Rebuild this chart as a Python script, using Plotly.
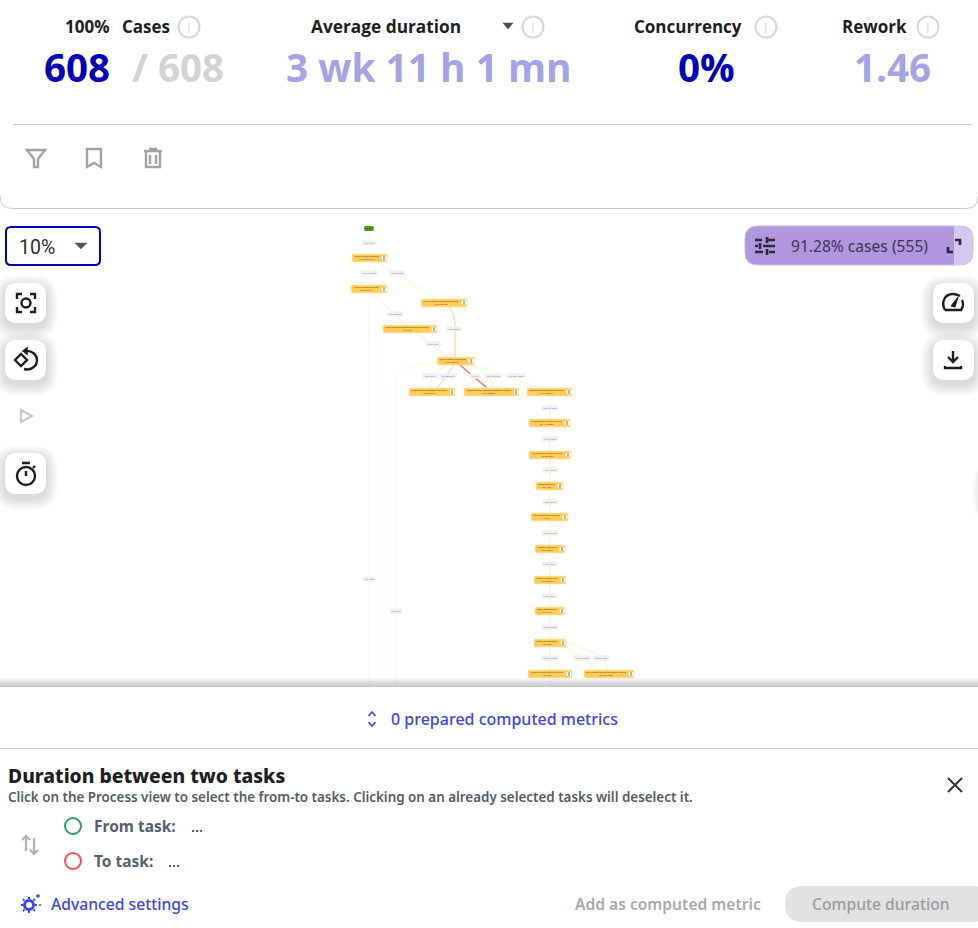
import re

import plotly.graph_objects as go

# header metrics
metric_labels = ["100%", "Cases", "Average duration", "Concurrency", "Rework"]
metric_values = ["608", "/ 608", "3 wk 11 h 1 mn", "0%", "1.46"]
zoom_level = "10%"
cases_filter = "91.28% cases (555)"

# process map
start_name = "Start"
node_names = [
    "Create Purchase Requisition",
    "Analyze Purchase Requisition",
    "Create Request for Quotation Requester",
    "Create Request for Quotation Requester Manager",
    "Analyze Request for Quotation",
    "Amend Request for Quotation Requester",
    "Amend Request for Quotation Requester Manager",
    "Send Request for Quotation to Supplier",
    "Create Quotation comparison Map",
    "Analyze Quotation comparison Map",
    "Choose best option",
    "Settle conditions with supplier",
    "Create Purchase Order",
    "Confirm Purchase Order",
    "Deliver Goods Services",
    "Release Purchase Order",
    "Approve Purchase Order for payment",
    "Send Approved Order to the Supplier Manager",
]
node_durations = [
    "Avg: 35 mn 48 s", "Avg: 8 mn 48 s", "Avg: 8 mn 48 s", "Avg: 9 mn",
    "Avg: 30 mn 5 s", "Avg: 8 mn 48 s", "Avg: 15 mn 8 s", "Avg: 15 mn 8 s",
    "Avg: 14 h 30 mn", "Avg: 20 mn 8 s", "Avg: 5 mn", "Avg: 2 h",
    "Avg: 5 mn 8 s", "Avg: 20 mn 8 s", "Avg: 1 d 3 h", "Avg: 5 mn",
    "Avg: 5 mn", "Avg: 35 h 40 mn",
]
edge_labels = [
    "Avg: 1 d 2 h", "Avg: 2 h 18 mn", "Avg: 2 h 5 mn", "Avg: 8 mn 8 s",
    "Avg: 6 d 2 h", "Avg: 8 h 8 s", "Avg: 8 d 8 s", "Avg: 30 mn 5 s",
    "Avg: 5 d", "Avg: 18 h 5 mn", "Avg: 20 h 48 mn",
    "Avg: 2 d 18 mn", "Avg: 8 d 8 mn", "Avg: 1 d 2 h", "Avg: 3 d 5 h",
    "Avg: 3 d 5 mn", "Avg: 5 d 8 s", "Avg: 2 d 8 s",
    "Avg: 2 d 8 mn", "Avg: 5 d 18 mn", "Avg: 2 d 8 mn", "Avg: 2 d 5 mn",
    "Avg: 2 mn", "Avg: 8 mn",
]

# node boxes in page pixels
node_x0 = [352, 351, 421, 383, 437, 409, 464, 527, 529, 529, 536, 531, 535, 534, 535, 534, 528, 584]
node_x1 = [387, 387, 467, 437, 474, 455, 519, 572, 570, 571, 563, 568, 565, 566, 565, 566, 572, 634]
node_y0 = [254, 285, 299, 325, 357, 388, 388, 388, 419, 451, 482, 513, 545, 576, 607, 639, 670, 670]

edge_label_x = [369, 369, 397, 395, 454, 433, 430, 448, 475, 493, 516, 550, 550, 550, 550, 550, 550, 550, 550, 550, 582, 601, 369, 396]
edge_label_y = [243, 273, 273, 314, 329, 344, 376, 376, 376, 376, 376, 408, 439, 470, 502, 533, 564, 596, 627, 658, 658, 658, 579, 611]

PALE = "#fff7e4"
edge_paths = [
    "M369 231 L369 254", "M369 262 L369 285", "M377 262 L437 299",
    "M369 294 L369 686", "M373 294 L406 325",
    "M449 307 C455 315 455 320 455 327 L455 357", "M415 333 L448 357",
    "M454 365 L437 388", "M460 365 L487 388",
    "M448 365 C436 370 430 378 430 388", "M470 365 C485 370 493 378 493 388",
    "M474 365 L540 388", "M437 362 C417 365 396 368 396 382 L396 686",
    "M550 396 L550 686", "M566 643 C590 650 605 655 608 670", "M566 647 L600 670",
]
edge_colors = [
    PALE, PALE, "#fff0d2", PALE, "#fff0d2", "#fdd3a2", "#ffe9c4",
    "#fcc79b", "#ee7350", "#fff0d2", "#fff0d2", "#fff0d2", PALE,
    "#fff2d8", "#fff0d2", "#fff0d2",
]
edge_widths = [1, 1, 1, 1, 1, 1.2, 1, 1, 1.4, 1, 1, 1, 1, 1.4, 1, 1]

DARK = "#1d1d22"
BLUE = "#0000b5"
LIGHT_BLUE = "#a3a3e6"
GREY_TEXT = "#d3d3d3"
LINK = "#3c46e4"
RULE = "#c9c6d3"
ICON_GREY = "#a2a2a2"

shapes = []
annotations = []


def rrect(x0, y0, x1, y1, r):
    return (
        f"M{x0 + r} {y0} L{x1 - r} {y0} Q{x1} {y0} {x1} {y0 + r} "
        f"L{x1} {y1 - r} Q{x1} {y1} {x1 - r} {y1} L{x0 + r} {y1} "
        f"Q{x0} {y1} {x0} {y1 - r} L{x0} {y0 + r} Q{x0} {y0} {x0 + r} {y0} Z"
    )


def add_path(path, fill=None, line=None, width=1, layer="below"):
    shapes.append(
        dict(
            type="path",
            path=path,
            xref="x",
            yref="y",
            layer=layer,
            fillcolor=fill or "rgba(0,0,0,0)",
            line=dict(color=line or "rgba(0,0,0,0)", width=width if line else 0),
        )
    )


def add_icon(cx, cy, path, color=DARK, width=2.4, fill=None):
    # icon paths are written around their own centre, absolute commands only
    out = []
    is_x = True
    for tok in re.findall(r"[A-Za-z]|-?[\d.]+", path):
        if tok.isalpha():
            out.append(tok)
            is_x = True
        else:
            out.append(str(float(tok) + (cx if is_x else cy)))
            is_x = not is_x
    add_path(" ".join(out), fill=fill, line=color, width=width, layer="above")


def add_circle(cx, cy, r, line=None, width=2, fill=None):
    shapes.append(
        dict(
            type="circle",
            xref="x",
            yref="y",
            x0=cx - r,
            x1=cx + r,
            y0=cy - r,
            y1=cy + r,
            layer="above",
            fillcolor=fill or "rgba(0,0,0,0)",
            line=dict(color=line or "rgba(0,0,0,0)", width=width if line else 0),
        )
    )


def add_text(x, y, text, size, color, weight=400, family="Open Sans", anchor="left"):
    annotations.append(
        dict(
            x=x,
            y=y,
            xref="x",
            yref="y",
            text=text,
            showarrow=False,
            xanchor=anchor,
            yanchor="middle",
            borderpad=0,
            font=dict(size=size, color=color, family=family, weight=weight),
        )
    )


def add_button(x0, y0, x1, y1):
    for i in range(12, 0, -1):
        add_path(
            rrect(x0 - i, y0 - i + 4, x1 + i, y1 + i + 4, 12 + i),
            fill="rgba(0,0,0,0.012)",
        )
    add_path(rrect(x0, y0, x1, y1, 12), fill="#ffffff")


def info_icon(cx, cy):
    add_circle(cx, cy, 10.5, line="#d6d6d6", width=2)
    add_text(cx, cy, "i", 14, "#d6d6d6", 400, anchor="center")


# header card
add_path("M0 196 Q0 208.5 12 208.5 L966 208.5 Q978 208.5 978 196", line=RULE, width=1)
shapes.append(dict(type="line", xref="x", yref="y", x0=13, x1=972, y0=124.5, y1=124.5,
                   line=dict(color=RULE, width=1), layer="below"))

add_text(64, 26, metric_labels[0], 17, DARK, 700)
add_text(121, 26, metric_labels[1], 17, DARK, 700)
add_text(310, 26, metric_labels[2], 17.3, DARK, 700)
add_text(633, 26, metric_labels[3], 17, DARK, 700)
add_text(841, 26, metric_labels[4], 17, DARK, 700)
for cx in [189, 533, 766, 928]:
    info_icon(cx, 27)
add_icon(508, 26, "M-5 -3 L5 -3 L0 3 Z", "#4a4a55", 0.5, fill="#4a4a55")

add_text(43, 67, metric_values[0], 38.5, BLUE, 700)
add_text(131, 67, metric_values[1], 38.5, GREY_TEXT, 700)
add_text(285, 67, metric_values[2], 38.8, LIGHT_BLUE, 700)
add_text(677, 67, metric_values[3], 38.5, BLUE, 700)
add_text(853, 67, metric_values[4], 38.5, LIGHT_BLUE, 700)

add_icon(36, 158, "M-9 -8 L9 -8 L2 1 L2 9 L-2 9 L-2 1 Z", ICON_GREY)
add_icon(94, 158, "M-7 -9 L7 -9 L7 9 L0 5 L-7 9 Z", ICON_GREY)
add_icon(153, 158, "M-9 -7 L9 -7 M-4 -9 L4 -9 M-7 -7 L-7 9 L7 9 L7 -7 M-3 -3 L-3 6 M3 -3 L3 6", ICON_GREY)

# zoom selector
add_path(rrect(6, 227, 100, 265, 5), fill="#ffffff", line=BLUE, width=2)
add_text(17.5, 247, zoom_level, 19.5, "#2a2a30", 400, family="Roboto")
add_icon(81, 246, "M-6 -3 L6 -3 L0 3 Z", "#55555c", 0.5, fill="#55555c")

# left and right tool buttons, the last one sits just off the page
for y0, y1 in [(283, 323), (340, 380), (453, 494)]:
    add_button(5, y0, 46, y1)
for y0, y1 in [(283, 323), (340, 380)]:
    add_button(933, y0, 974, y1)
add_button(984, 468, 1025, 508)

add_icon(26, 303, "M-9 -4 L-9 -9 L-4 -9 M4 -9 L9 -9 L9 -4 M9 4 L9 9 L4 9 M-4 9 L-9 9 L-9 4")
add_circle(26, 303, 4.5, line=DARK, width=2.4)
add_icon(26, 360, "M-11 0 L-5 -6 L1 0 L-5 6 Z M-1 -9 C6 -10 11 -5 11 0 C11 6 5 11 -2 9")
add_icon(25, 351, "M-2 0 L2 -3 L2 3 Z", width=1.5, fill=DARK)
add_icon(26, 416, "M-5 -6 L6 0 L-5 6 Z", "#c4c4c4", 2)
add_circle(26, 476, 9, line=DARK, width=2.4)
add_icon(26, 476, "M-4 -13 L4 -13 M0 0 L0 -5 M7 -8 L9 -10")
add_icon(953, 303, "M-8 7 C-12 0 -9 -9 0 -9 C3 -9 5 -8 7 -7 M9 -3 C11 1 10 4 8 7 L-8 7")
add_icon(953, 303, "M-2 3 L5 -6 L2 4 Z", width=1, fill=DARK)
add_icon(953, 360, "M0 -9 L0 2 M-5 -3 L0 2 L5 -3 M-8 6 L-8 8 L8 8 L8 6")

# case filter pill
add_path(rrect(745, 226, 973, 265, 13), fill="#b097de", line="#c5b8e6", width=1)
add_path("M954 226 L960 226 Q973 226 973 239 L973 252 Q973 265 960 265 L954 265 Z", fill="#d4c8ee")
add_text(790, 246, cases_filter, 15.6, "#3b3352", 400, family="Noto Sans")
add_icon(765, 246, "M-10 -6 L-3 -6 M3 -6 L10 -6 M2 -9 L2 -3 M-10 0 L-7 0 M-2 0 L10 0 M-5 -3 L-5 3 M-10 6 L-2 6 M4 6 L10 6 M2 3 L2 9", "#2d2740", 2.6)
add_icon(954, 246, "M1 -6 L6 -6 L6 -1 M-6 1 L-6 6 L-1 6", "#2d2740", 2.6)

# process map edges, below the node boxes
for path, color, width in zip(edge_paths, edge_colors, edge_widths):
    add_path(path, line=color, width=width)

# edge label chips
for x, y, text in zip(edge_label_x, edge_label_y, edge_labels):
    half = 0.55 * len(text) + 1
    add_path(rrect(x - half, y - 2.4, x + half, y + 2.4, 0.5), fill="#eeeef3")

# start node
add_path(rrect(364, 226, 374, 231, 2), fill="#4c9a08")

# task nodes
node_y1 = [y + 8 for y in node_y0]
for x0, x1, y0, y1 in zip(node_x0, node_x1, node_y0, node_y1):
    add_path(rrect(x0, y0, x1, y1, 1.5), fill="#ffcb57", line="#ffe8b4", width=0.8)

fig = go.Figure()
fig.add_trace(
    go.Scatter(
        x=[369],
        y=[228.5],
        mode="text",
        text=[start_name],
        textfont=dict(size=2.2, color="#11300a", family="Open Sans"),
    )
)
fig.add_trace(
    go.Scatter(
        x=edge_label_x,
        y=edge_label_y,
        mode="text",
        text=edge_labels,
        textfont=dict(size=2, color="#66666e", family="Open Sans"),
    )
)
node_cx = [(a + b - 6) / 2 for a, b in zip(node_x0, node_x1)]
node_cy = [y + 4 for y in node_y0]
fig.add_trace(
    go.Scatter(
        x=node_cx,
        y=node_cy,
        mode="text",
        text=[f"{n}<br>{d}" for n, d in zip(node_names, node_durations)],
        textfont=dict(size=1.9, color="#3a2c08", family="Open Sans"),
    )
)
fig.add_trace(
    go.Scatter(
        x=[b - 3 for b in node_x1],
        y=node_cy,
        mode="markers",
        marker=dict(size=5, color="#ffffff", line=dict(width=0)),
    )
)
fig.add_trace(
    go.Scatter(
        x=[b - 3 for b in node_x1],
        y=node_cy,
        mode="markers",
        marker=dict(size=3, symbol="line-ns", line=dict(width=0.8, color="#444444")),
    )
)

# soft shadow where the panel covers the map
for i in range(9):
    shapes.append(dict(type="rect", xref="x", yref="y", x0=0, x1=978, y0=678 + i, y1=687,
                       layer="above", fillcolor="rgba(120,120,120,0.05)", line=dict(width=0)))
shapes.append(dict(type="rect", xref="x", yref="y", x0=0, x1=978, y0=687, y1=928,
                   layer="above", fillcolor="#ffffff", line=dict(width=0)))

# bottom panel
add_icon(372, 719, "M-3.5 -3 L0 -7 L3.5 -3 M-3.5 3 L0 7 L3.5 3", LINK, 1.6)
add_text(390, 719, "0 prepared computed metrics", 16, LINK, 500, family="Noto Sans")
shapes.append(dict(type="line", xref="x", yref="y", x0=0, x1=978, y0=748.5, y1=748.5,
                   line=dict(color=RULE, width=1), layer="above"))
add_text(6.5, 775, "Duration between two tasks", 19.3, DARK, 800, family="Noto Sans")
add_text(6.5, 797, "Click on the Process view to select the from-to tasks. Clicking on an already selected tasks will deselect it.",
         13.4, "#555b66", 600, family="Noto Sans")
add_icon(955, 785, "M-7 -7 L7 7 M7 -7 L-7 7", "#333338", 2)

add_icon(30, 844, "M-4 7 L-4 -8 M-8 -4 L-4 -8 L0 -4 M4 -6 L4 10 M0 6 L4 10 L8 6", "#b0b0b0", 2.2)
add_circle(73, 826, 8, line="#27a25e", width=2)
add_circle(73, 861, 8, line="#f0524a", width=2)
add_text(92.5, 826, "From task:", 15.5, "#555e6c", 700, family="Noto Sans")
add_text(92.5, 861, "To task:", 15.5, "#555e6c", 700, family="Noto Sans")
add_text(190, 826, "...", 15, DARK, 400, family="Noto Sans")
add_text(167, 861, "...", 15, DARK, 400, family="Noto Sans")

add_circle(29, 905, 4.5, line=LINK, width=3)
add_icon(29, 905, "M-6 0 L-8 0 M6 0 L8 0 M0 -6 L0 -8 M0 6 L0 8 M-4.5 -4.5 L-6 -6 M4.5 4.5 L6 6 M-4.5 4.5 L-6 6 M4.5 -4.5 L6 -6", LINK, 2)
add_icon(29, 905, "M7 -9 L11 -9 M9 -11 L9 -7 M10 0 L12 0", LINK, 1.3)
add_text(50, 904, "Advanced settings", 15.7, LINK, 500, family="Noto Sans")
add_text(574, 904, "Add as computed metric", 15.6, "#a9a9ad", 600, family="Noto Sans")
add_path(rrect(785, 886, 990, 922, 18), fill="#e2e2e2", layer="above")
add_text(811, 904, "Compute duration", 15.7, "#9b9b9f", 500, family="Noto Sans")

fig.update_layout(
    width=978,
    height=928,
    autosize=False,
    margin=dict(l=0, r=0, t=0, b=0),
    paper_bgcolor="#ffffff",
    plot_bgcolor="#ffffff",
    showlegend=False,
    hovermode=False,
    shapes=shapes,
    annotations=annotations,
    xaxis=dict(range=[0, 978], visible=False, fixedrange=True),
    yaxis=dict(range=[928, 0], visible=False, fixedrange=True),
)

fig.write_html(
    "out.html",
    config=dict(displayModeBar=False),
    post_script="document.body.style.margin='0';document.body.style.overflow='hidden';",
)
